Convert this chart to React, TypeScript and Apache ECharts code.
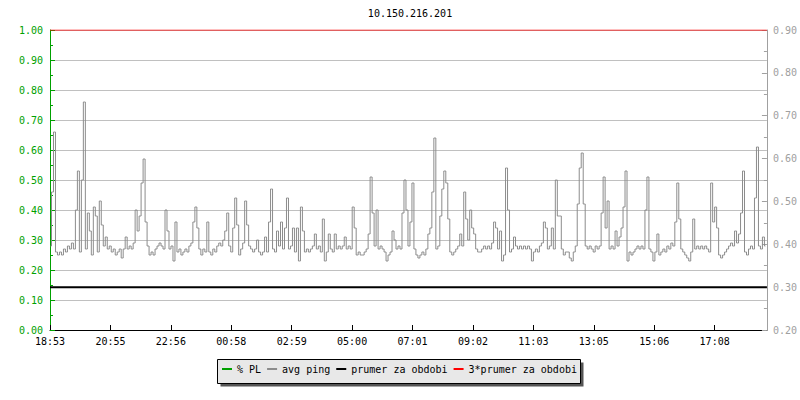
import React, { useEffect, useRef } from "react";
import * as echarts from "echarts";

const title = "10.150.216.201";
const tickLabels = ["18:53", "20:55", "22:56", "00:58", "02:59", "05:00", "07:01", "09:02", "11:03", "13:05", "15:06", "17:08"];
const stepMinutes = 4;
const sampleOffsetMinutes = 1;
const spanMinutes = 1440;
const labelInterval = 1335 / 11;
const seriesNames = ["% PL", "avg ping", "prumer za obdobi", "3*prumer za obdobi"];
const periodAverage = 0.3;
const periodAverage3 = 0.9;
const packetLoss: number[] = [];
const avgPing = [
  0.28, 0.46, 0.66, 0.26, 0.25, 0.26, 0.25, 0.27, 0.26, 0.28, 0.27, 0.29, 0.27, 0.40, 0.53, 0.26, 0.50, 0.76, 0.27, 0.39,
  0.33, 0.25, 0.41, 0.38, 0.26, 0.43, 0.35, 0.28, 0.31, 0.27, 0.28, 0.26, 0.27, 0.25, 0.26, 0.27, 0.24, 0.27, 0.31, 0.27,
  0.28, 0.27, 0.29, 0.40, 0.33, 0.38, 0.49, 0.57, 0.36, 0.28, 0.25, 0.26, 0.25, 0.27, 0.28, 0.29, 0.28, 0.27, 0.40, 0.33,
  0.27, 0.28, 0.23, 0.36, 0.26, 0.27, 0.25, 0.26, 0.27, 0.26, 0.28, 0.29, 0.36, 0.41, 0.34, 0.27, 0.25, 0.27, 0.26, 0.36,
  0.26, 0.25, 0.27, 0.26, 0.28, 0.29, 0.28, 0.30, 0.33, 0.39, 0.28, 0.26, 0.34, 0.44, 0.35, 0.25, 0.27, 0.29, 0.43, 0.35,
  0.28, 0.27, 0.26, 0.27, 0.30, 0.26, 0.25, 0.26, 0.31, 0.26, 0.36, 0.47, 0.27, 0.26, 0.33, 0.28, 0.36, 0.27, 0.34, 0.44,
  0.27, 0.28, 0.34, 0.26, 0.34, 0.23, 0.41, 0.33, 0.26, 0.27, 0.26, 0.27, 0.28, 0.32, 0.27, 0.28, 0.26, 0.37, 0.23, 0.26,
  0.32, 0.27, 0.26, 0.32, 0.27, 0.28, 0.27, 0.28, 0.31, 0.27, 0.28, 0.27, 0.41, 0.34, 0.25, 0.26, 0.25, 0.25, 0.26, 0.27,
  0.32, 0.51, 0.39, 0.28, 0.40, 0.27, 0.28, 0.27, 0.26, 0.23, 0.25, 0.26, 0.33, 0.30, 0.27, 0.28, 0.27, 0.39, 0.50, 0.40,
  0.28, 0.36, 0.49, 0.27, 0.25, 0.24, 0.25, 0.26, 0.25, 0.27, 0.32, 0.34, 0.46, 0.64, 0.27, 0.28, 0.38, 0.47, 0.53, 0.49,
  0.37, 0.26, 0.25, 0.26, 0.27, 0.28, 0.32, 0.28, 0.46, 0.37, 0.30, 0.40, 0.34, 0.32, 0.27, 0.26, 0.26, 0.27, 0.28, 0.27,
  0.28, 0.27, 0.29, 0.36, 0.34, 0.27, 0.33, 0.23, 0.25, 0.54, 0.40, 0.26, 0.27, 0.31, 0.28, 0.27, 0.28, 0.27, 0.28, 0.27,
  0.28, 0.27, 0.23, 0.26, 0.27, 0.26, 0.28, 0.29, 0.36, 0.34, 0.27, 0.28, 0.34, 0.27, 0.50, 0.38, 0.38, 0.27, 0.25, 0.26,
  0.26, 0.24, 0.23, 0.26, 0.28, 0.42, 0.54, 0.59, 0.42, 0.28, 0.27, 0.28, 0.27, 0.26, 0.28, 0.27, 0.28, 0.39, 0.51, 0.34,
  0.43, 0.27, 0.28, 0.27, 0.33, 0.28, 0.31, 0.34, 0.41, 0.53, 0.23, 0.26, 0.25, 0.26, 0.27, 0.28, 0.27, 0.28, 0.27, 0.40,
  0.51, 0.27, 0.26, 0.23, 0.26, 0.32, 0.25, 0.26, 0.27, 0.26, 0.28, 0.27, 0.29, 0.28, 0.36, 0.49, 0.37, 0.27, 0.26, 0.25,
  0.24, 0.23, 0.26, 0.37, 0.27, 0.28, 0.27, 0.28, 0.27, 0.28, 0.27, 0.26, 0.49, 0.36, 0.41, 0.34, 0.25, 0.24, 0.25, 0.26,
  0.27, 0.28, 0.29, 0.28, 0.33, 0.29, 0.32, 0.39, 0.53, 0.26, 0.25, 0.27, 0.28, 0.27, 0.44, 0.61, 0.28, 0.27, 0.31, 0.28,
];

const MONO = "DejaVu Sans Mono";
const GREEN = "#00a000";
const GRAY = "#a0a0a0";
const PING = "#8c8c8c";

export default function App() {
  const ref = useRef<HTMLDivElement>(null);
  useEffect(() => {
    if (!ref.current) return;
    const chart = echarts.init(ref.current, undefined, { renderer: "svg" });
    const pingData = avgPing.map((v, i) => [i * stepMinutes + sampleOffsetMinutes, v]);
    const fmtX = (v: number) => {
      const idx = Math.round(v / labelInterval);
      if (Math.abs(v - idx * labelInterval) > 1) return "";
      return tickLabels[idx] ?? "";
    };
    chart.setOption({
      animation: false,
      backgroundColor: "#ffffff",
      grid: { left: 50, right: 30, top: 30, bottom: 70, containLabel: false },
      graphic: [
        {
          type: "text",
          x: 410,
          y: 13,
          style: { text: title, fontFamily: MONO, fontSize: 10, fill: "#000", textAlign: "center", textVerticalAlign: "middle" },
        },
        { type: "rect", z: 0, shape: { x: 220.5, y: 362.5, width: 363, height: 24 }, style: { fill: "#555555" } },
        {
          type: "rect",
          z: 1,
          shape: { x: 217.5, y: 359.5, width: 363, height: 24 },
          style: { fill: "#e8e8e8", stroke: "#000", lineWidth: 1 },
        },
      ],
      legend: {
        z: 10,
        left: 222,
        top: 364,
        padding: 0,
        itemGap: 6,
        itemWidth: 10,
        itemHeight: 2,
        icon: "rect",
        data: seriesNames,
        textStyle: { fontFamily: MONO, fontSize: 10, color: "#000" },
      },
      xAxis: {
        type: "value",
        min: 0,
        max: spanMinutes,
        interval: labelInterval,
        axisLine: { show: true, lineStyle: { color: "#000", width: 1 } },
        axisTick: { show: true, inside: true, length: 5, lineStyle: { color: "#000" } },
        axisLabel: { formatter: fmtX, fontFamily: MONO, fontSize: 10, color: "#000", margin: 6, showMaxLabel: false },
        splitLine: { show: false },
      },
      yAxis: [
        {
          type: "value",
          position: "left",
          min: 0,
          max: 1,
          interval: 0.1,
          axisLine: { show: true, lineStyle: { color: GREEN, width: 1 } },
          axisTick: { show: true, inside: true, length: 5, lineStyle: { color: GREEN } },
          minorTick: { show: true, splitNumber: 2, length: 3, lineStyle: { color: GREEN } },
          axisLabel: { formatter: (v: number) => v.toFixed(2), fontFamily: MONO, fontSize: 10, color: GREEN, margin: 7 },
          splitLine: { show: true, lineStyle: { color: "#c0c0c0", width: 1 } },
        },
        {
          type: "value",
          position: "right",
          min: 0.2,
          max: 0.9,
          interval: 0.1,
          axisLine: { show: true, lineStyle: { color: GRAY, width: 1 } },
          axisTick: { show: true, inside: true, length: 5, lineStyle: { color: GRAY } },
          minorTick: { show: true, splitNumber: 2, length: 3, lineStyle: { color: GRAY } },
          axisLabel: { formatter: (v: number) => v.toFixed(2), fontFamily: MONO, fontSize: 10, color: GRAY, margin: 6 },
          splitLine: { show: false },
        },
      ],
      series: [
        { name: seriesNames[0], type: "line", yAxisIndex: 0, data: packetLoss, showSymbol: false, color: GREEN, lineStyle: { color: GREEN, width: 1 } },
        {
          name: seriesNames[1],
          type: "line",
          yAxisIndex: 0,
          data: pingData,
          step: "middle",
          showSymbol: false,
          symbol: "none",
          color: PING,
          lineStyle: { color: PING, width: 1 },
        },
        {
          name: seriesNames[2],
          type: "line",
          yAxisIndex: 1,
          data: [[0, periodAverage], [spanMinutes, periodAverage]],
          symbol: "none",
          color: "#000",
          lineStyle: { color: "#000", width: 2 },
        },
        {
          name: seriesNames[3],
          type: "line",
          yAxisIndex: 1,
          data: [[0, periodAverage3], [spanMinutes, periodAverage3]],
          symbol: "none",
          color: "#ff0000",
          lineStyle: { color: "#ff0000", width: 1 },
        },
      ],
    });
    return () => chart.dispose();
  }, []);
  return <div ref={ref} style={{ position: "absolute", left: 0, top: 0, width: 800, height: 400 }} />;
}
